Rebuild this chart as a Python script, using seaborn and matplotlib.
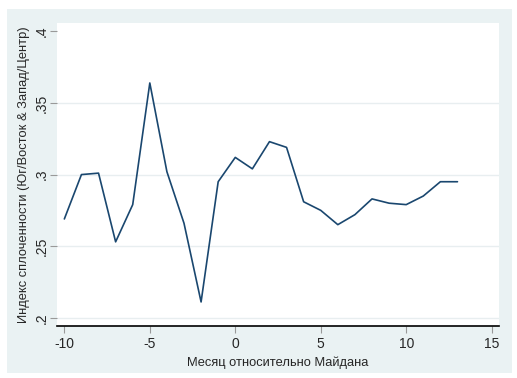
import numpy as np
import pandas as pd
import matplotlib
matplotlib.use('Agg')
import matplotlib.pyplot as plt
import seaborn as sns
from matplotlib.patches import Rectangle

# months relative to Maidan and the cohesion index
months = [-10, -9, -8, -7, -6, -5, -4, -3, -2, -1, 0, 1, 2, 3, 4, 5, 6, 7, 8, 9, 10, 11, 12, 13]
index_vals = [0.269, 0.300, 0.301, 0.253, 0.279, 0.364, 0.302, 0.266, 0.211, 0.295, 0.312,
              0.304, 0.323, 0.319, 0.281, 0.275, 0.265, 0.272, 0.283, 0.280, 0.279, 0.285,
              0.295, 0.295]
xticks = [-10, -5, 0, 5, 10, 15]
yticks = [0.2, 0.25, 0.3, 0.35, 0.4]
ytick_labels = ['.2', '.25', '.3', '.35', '.4']

df = pd.DataFrame({'month': months, 'index': index_vals})

sns.set_style('white')
plt.rcParams['font.family'] = ['Liberation Sans', 'DejaVu Sans']
plt.rcParams['axes.unicode_minus'] = False

fig = plt.figure(figsize=(5.17, 3.78), dpi=100, facecolor='white')
# stata-like light blue frame
fig.add_artist(Rectangle((7 / 517, 1 - 373 / 378), 505 / 517, 364 / 378,
                         transform=fig.transFigure, facecolor='#eaf2f3',
                         edgecolor='none', zorder=-5))
ax = fig.add_axes([57 / 517, 1 - 326 / 378, 442 / 517, 303 / 378])
ax.set_zorder(1)
ax.set_facecolor('white')

sns.lineplot(data=df, x='month', y='index', ax=ax, color='#1a476f', linewidth=1.2)

ax.set_xlim(-10.43, 15.43)
ax.set_ylim(0.1942, 0.4059)
ax.set_xticks(xticks)
ax.set_yticks(yticks)
ax.set_yticklabels(ytick_labels, rotation=90, va='center')
ax.tick_params(axis='both', bottom=True, left=True, labelsize=10, length=5, width=0.8,
               color='#999999', direction='out', pad=3)
ax.tick_params(axis='y', pad=1)

ax.grid(axis='y', color='#e8eef0', linewidth=1)
ax.yaxis.get_gridlines()[-1].set_visible(False)
ax.set_axisbelow(True)

for s in ['top', 'right', 'left']:
    ax.spines[s].set_visible(False)
ax.spines['bottom'].set_color('black')
ax.spines['bottom'].set_linewidth(1.2)

ax.set_xlabel('Месяц относительно Майдана', fontsize=9.3, labelpad=4)
ax.set_ylabel('Индекс сплоченности (Юг/Восток & Запад/Центр)', fontsize=9.3, labelpad=3)

fig.savefig('out.png', dpi=100, facecolor='white')
